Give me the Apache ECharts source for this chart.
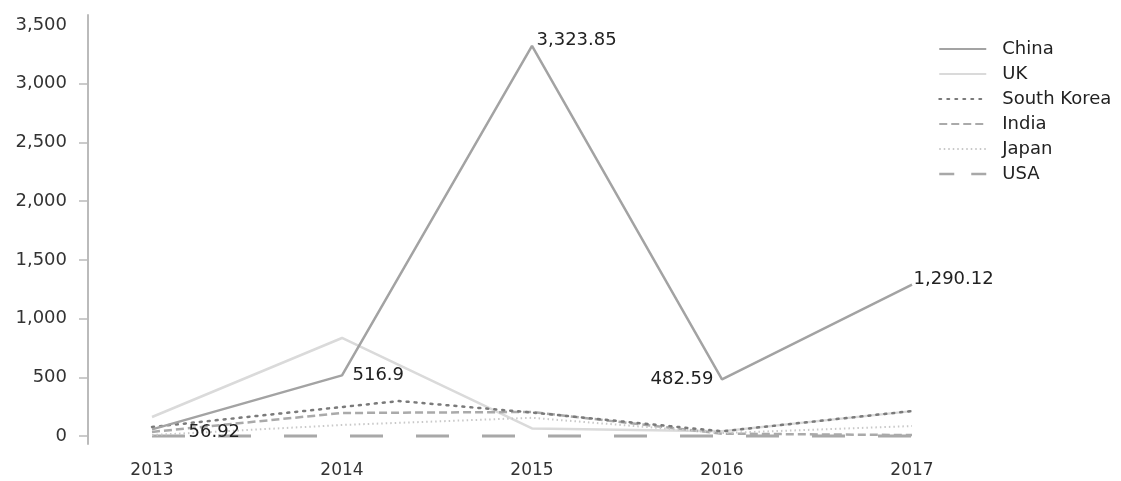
<!DOCTYPE html>
<html>
<head>
<meta charset="utf-8">
<script src="https://cdn.jsdelivr.net/npm/echarts@6/dist/echarts.min.js"></script>
<style>html,body{margin:0;padding:0;background:#fff;}#c{width:1121px;height:481px;}</style>
</head>
<body>
<div id="c"></div>
<script>
const years = [2013, 2014, 2015, 2016, 2017];
const china = [56.92, 516.9, 3323.85, 482.59, 1290.12];
const uk = [162, 835, 65, 40, 212];
const southKoreaX = [2013, 2014.3, 2015, 2016, 2017];
const southKorea = [77, 298, 200, 40, 213];
const india = [35, 196, 205, 20, 8];
const japan = [8, 94, 155, 25, 85];
const usa = [1, 1, 1, 1, 1];
const seriesNames = ['China', 'UK', 'South Korea', 'India', 'Japan', 'USA'];
const yLabelValues = [0, 500, 1000, 1500, 2000, 2500, 3000, 3500];
const yTickValues = [0, 500, 1000, 1500, 2000, 2500, 3000];

const FONT = 'DejaVu Sans';
const NOSYM = 'rgba(0,0,0,0)';
const pair = (xs, ys) => xs.map((x, i) => [x, ys[i]]);
const fmt = v => v.toLocaleString('en-US', {maximumFractionDigits: 2});

const chinaLabelCfg = [
  {position: 'right', distance: 4, offset: [32, 3]},
  {position: 'right', distance: 8, offset: [2, 0]},
  {position: 'right', distance: 4, offset: [0, -5]},
  {position: 'left', distance: 8, offset: [0, 0]},
  {position: 'right', distance: 1, offset: [0, -5]}
];

const legendData = seriesNames.map(n => n === 'USA'
  ? {name: n, lineStyle: {type: [15, 17], width: 2.5}}
  : {name: n});

const chart = echarts.init(document.getElementById('c'), null, {renderer: 'canvas'});
chart.setOption({
  animation: false,
  textStyle: {fontFamily: FONT},
  grid: {left: 152, right: 209, top: 15, bottom: 37, containLabel: false},
  legend: {
    orient: 'vertical', left: 933, top: 35,
    itemWidth: 47, itemHeight: 14, itemGap: 7,
    itemStyle: {color: NOSYM, borderWidth: 0},
    textStyle: {fontFamily: FONT, fontSize: 18, color: '#222', padding: [0, 0, 0, 11]},
    data: legendData
  },
  xAxis: {
    type: 'value', min: 2013, max: 2017, interval: 1,
    axisLine: {show: false, onZero: false},
    axisTick: {show: false},
    splitLine: {show: false},
    axisLabel: {margin: 18, fontFamily: FONT, fontSize: 17, color: '#333', formatter: v => String(v)}
  },
  yAxis: {
    type: 'value', min: -68, max: 3586, offset: 64,
    axisLine: {show: true, lineStyle: {color: '#bbb', width: 2}},
    axisTick: {show: true, length: 9, customValues: yTickValues, lineStyle: {color: '#bbb', width: 1.5}},
    splitLine: {show: false},
    axisLabel: {margin: 21, fontFamily: FONT, fontSize: 18, color: '#333', customValues: yLabelValues, formatter: v => fmt(v)}
  },
  series: [
    {
      name: seriesNames[0], type: 'line', symbol: 'circle', symbolSize: 1,
      itemStyle: {color: NOSYM},
      lineStyle: {color: '#a3a3a3', width: 2.5},
      emphasis: {disabled: true},
      data: years.map((x, i) => ({
        value: [x, china[i]],
        label: Object.assign({show: true, formatter: p => fmt(p.value[1]), fontFamily: FONT, fontSize: 18, color: '#222'}, chinaLabelCfg[i])
      })),
      z: 6
    },
    {
      name: seriesNames[1], type: 'line', symbol: 'none',
      itemStyle: {color: NOSYM},
      lineStyle: {color: '#dadada', width: 2.5},
      data: pair(years, uk), z: 2
    },
    {
      name: seriesNames[2], type: 'line', symbol: 'none',
      itemStyle: {color: NOSYM},
      lineStyle: {color: '#7a7a7a', width: 2.5, type: [2, 6], cap: 'round'},
      data: pair(southKoreaX, southKorea), z: 4
    },
    {
      name: seriesNames[3], type: 'line', symbol: 'none',
      itemStyle: {color: NOSYM},
      lineStyle: {color: '#aaaaaa', width: 2.5, type: [8, 4]},
      data: pair(years, india), z: 3
    },
    {
      name: seriesNames[4], type: 'line', symbol: 'none',
      itemStyle: {color: NOSYM},
      lineStyle: {color: '#c8c8c8', width: 2, type: [1.5, 3]},
      data: pair(years, japan), z: 3
    },
    {
      name: seriesNames[5], type: 'line', symbol: 'none',
      itemStyle: {color: NOSYM},
      lineStyle: {color: '#a8a8a8', width: 3, type: [33, 33]},
      data: pair(years, usa), z: 2
    }
  ]
});
</script>
</body>
</html>
